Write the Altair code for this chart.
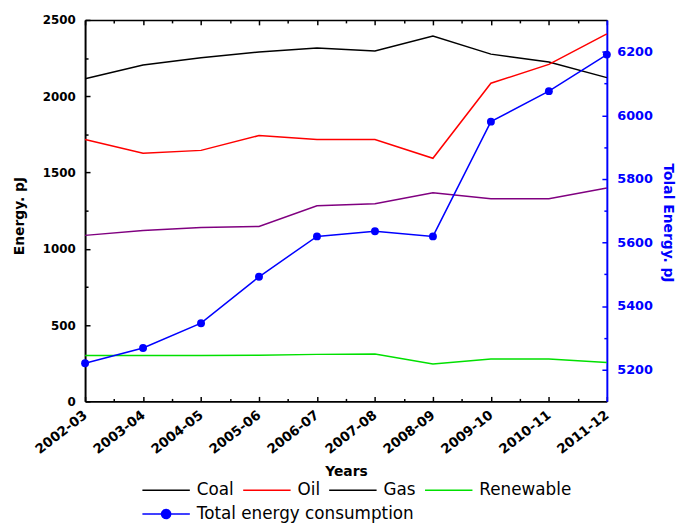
import json
import altair as alt
import pandas as pd

# ---------------- data ----------------
years = ["2002-03", "2003-04", "2004-05", "2005-06", "2006-07",
         "2007-08", "2008-09", "2009-10", "2010-11", "2011-12"]
coal = [2115, 2205, 2252, 2290, 2316, 2296, 2394, 2276, 2224, 2122]
oil = [1716, 1626, 1645, 1742, 1716, 1716, 1593, 2085, 2209, 2409]
gas = [1088, 1120, 1140, 1146, 1282, 1295, 1367, 1328, 1328, 1399]
renewable = [300, 300, 300, 302, 308, 310, 245, 278, 278, 255]
total = [5220, 5268, 5346, 5492, 5619, 5635, 5619, 5980, 6076, 6191]

series_names = ["Coal", "Oil", "Gas", "Renewable"]
series_codes = ["s_coal", "s_oil", "s_gas", "s_renew"]
line_colors = ["#000000", "#ff0000", "#800080", "#00e000"]
legend_colors = ["#000000", "#ff0000", "#000000", "#00e000"]
total_name = "Total energy consumption"

left_domain = [0, 2500]
right_domain = [5100, 6300]
left_major = [0, 500, 1000, 1500, 2000, 2500]
left_minor = [250, 750, 1250, 1750, 2250]
right_major = [5200, 5400, 5600, 5800, 6000, 6200]
right_minor = [5300, 5500, 5700, 5900, 6100]
x_major = list(range(len(years)))
x_minor = [i + 0.5 for i in range(len(years) - 1)]

# ---------------- tables ----------------
rows = []
for name, code, vals in zip(series_names, series_codes, [coal, oil, gas, renewable]):
    for i, (yr, v) in enumerate(zip(years, vals)):
        rows.append({"idx": i, "year": yr, "series": name, "code": code, "value": v})
df = pd.DataFrame(rows)
tdf = pd.DataFrame({"idx": x_major, "year": years, "total": total,
                    "sname": [total_name] * len(years)})

W, H = 528, 386
FONT = "DejaVu Sans"
BLUE = "#0000ff"
label_expr = f"{json.dumps(years)}[round(datum.value)]"
SYMBOL_PATH = "M-1,0L1,0M-0.19,0A0.19,0.19,0,1,1,0.19,0A0.19,0.19,0,1,1,-0.19,0Z"


def xenc(axis):
    return alt.X("idx:Q", scale=alt.Scale(domain=[0, 9], nice=False, zero=False), axis=axis)


def yenc(field, domain, axis):
    return alt.Y(f"{field}:Q", scale=alt.Scale(domain=domain, nice=False, zero=False), axis=axis)


def tick_axis(orient, values, size, offset, color, domain=False, domain_width=1.5):
    return alt.Axis(orient=orient, values=values, offset=offset, labels=False,
                    ticks=True, tickSize=size, tickColor=color, tickWidth=1.5,
                    domain=domain, domainColor=color, domainWidth=domain_width,
                    grid=False, title=None)


x_main_axis = alt.Axis(
    orient="bottom", values=x_major, labelExpr=label_expr, labelAngle=-38,
    labelAlign="right", labelBaseline="middle", labelFont=FONT, labelFontSize=13.5,
    labelFontWeight="bold", labelColor="black", labelPadding=12, labelFlush=False,
    labelOverlap=False, ticks=False, tickSize=0, domainColor="black", domainWidth=2,
    grid=False, title="Years", titleFont=FONT, titleFontSize=14, titleFontWeight="bold",
    titleColor="black", titleX=W / 2, titleY=71, titleBaseline="middle")

y_left_axis = alt.Axis(
    orient="left", values=left_major, format="d", labelFont=FONT, labelFontSize=12,
    labelFontWeight="bold", labelColor="black", labelPadding=10, labelFlush=False,
    ticks=False, tickSize=0, domainColor="black", domainWidth=2, grid=False,
    title="Energy. pJ", titleFont=FONT, titleFontSize=14, titleFontWeight="bold",
    titleColor="black", titleAngle=270, titleX=-66, titleY=198,
    titleBaseline="middle", titleAlign="center")

y_right_axis = alt.Axis(
    orient="right", values=right_major, format="d", labelFont=FONT, labelFontSize=13,
    labelFontWeight="bold", labelColor=BLUE, labelPadding=10, labelFlush=False,
    ticks=False, tickSize=0, domainColor=BLUE, domainWidth=2, grid=False,
    title="Tolal Energy. pJ", titleFont=FONT, titleFontSize=14, titleFontWeight="bold",
    titleColor=BLUE, titleAngle=90, titleX=61, titleY=205,
    titleBaseline="middle", titleAlign="center")

# visible energy lines (left axis)
lines = alt.Chart(df).mark_line(strokeWidth=1.5).encode(
    x=xenc(x_main_axis),
    y=yenc("value", left_domain, y_left_axis),
    stroke=alt.Stroke("code:N", scale=alt.Scale(domain=series_codes, range=line_colors),
                      legend=None),
)

# legend for energy sources (no marks)
legend1 = alt.Chart(df).mark_line(strokeWidth=1.5).encode(
    x=xenc(None),
    y=yenc("value", left_domain, None),
    color=alt.Color("series:N", scale=alt.Scale(domain=series_names, range=legend_colors),
                    legend=alt.Legend(orient="none", legendX=57, legendY=451,
                                      direction="horizontal", columns=4,
                                      symbolType="stroke", symbolSize=2304,
                                      symbolStrokeWidth=1.5, labelFont=FONT,
                                      labelFontSize=17, labelColor="black",
                                      labelOffset=6, columnPadding=6, padding=0,
                                      labelLimit=400, title=None)),
).transform_filter("false")

# inward ticks: bottom + left
ticks_a = alt.Chart(df).mark_point(opacity=0).encode(
    x=xenc(tick_axis("top", x_major, 5, -H, "black")),
    y=yenc("value", left_domain, tick_axis("right", left_major, 5, -W, "black")),
).transform_filter("false")
ticks_b = alt.Chart(df).mark_point(opacity=0).encode(
    x=xenc(tick_axis("top", x_minor, 3, -H, "black")),
    y=yenc("value", left_domain, tick_axis("right", left_minor, 3, -W, "black")),
).transform_filter("false")

# inward ticks: top (with frame line) + right
ticks_c = alt.Chart(tdf).mark_point(opacity=0).encode(
    x=xenc(tick_axis("bottom", x_major, 5, -H, "black", domain=True)),
    y=yenc("total", right_domain, tick_axis("left", right_major, 5, -W, BLUE)),
).transform_filter("false")
ticks_d = alt.Chart(tdf).mark_point(opacity=0).encode(
    x=xenc(tick_axis("bottom", x_minor, 3, -H, "black")),
    y=yenc("total", right_domain, tick_axis("left", right_minor, 3, -W, BLUE)),
).transform_filter("false")

# total energy (right axis)
total_line = alt.Chart(tdf).mark_line(color=BLUE, strokeWidth=1.5).encode(
    x=xenc(None),
    y=yenc("total", right_domain, y_right_axis),
)
total_pts = alt.Chart(tdf).mark_point(filled=True, size=64, color=BLUE, opacity=1).encode(
    x=xenc(None),
    y=yenc("total", right_domain, None),
)
legend2 = alt.Chart(tdf).mark_line(color=BLUE, strokeWidth=1.5).encode(
    x=xenc(None),
    y=yenc("total", right_domain, None),
    strokeDash=alt.StrokeDash("sname:N", scale=alt.Scale(domain=[total_name], range=[[1, 0]]),
                              legend=alt.Legend(orient="none", legendX=57, legendY=475,
                                                symbolType=SYMBOL_PATH,
                                                symbolSize=2304, symbolStrokeWidth=1.5,
                                                symbolFillColor=BLUE,
                                                labelFont=FONT, labelFontSize=17,
                                                labelColor="black", labelOffset=6,
                                                labelLimit=400, padding=0, title=None)),
).transform_filter("false")

chart = alt.layer(
    ticks_a, ticks_b, ticks_c, ticks_d, lines, legend1, total_line, total_pts, legend2
).resolve_scale(
    y="independent"
).resolve_axis(
    x="independent", y="independent"
).properties(
    width=W, height=H,
    padding={"left": 78, "top": 9, "right": 72, "bottom": 120},
    autosize=alt.AutoSizeParams(type="none"),
    background="white",
).configure_view(stroke=None)

chart.save("out.html", embed_options={"renderer": "svg", "actions": False})
